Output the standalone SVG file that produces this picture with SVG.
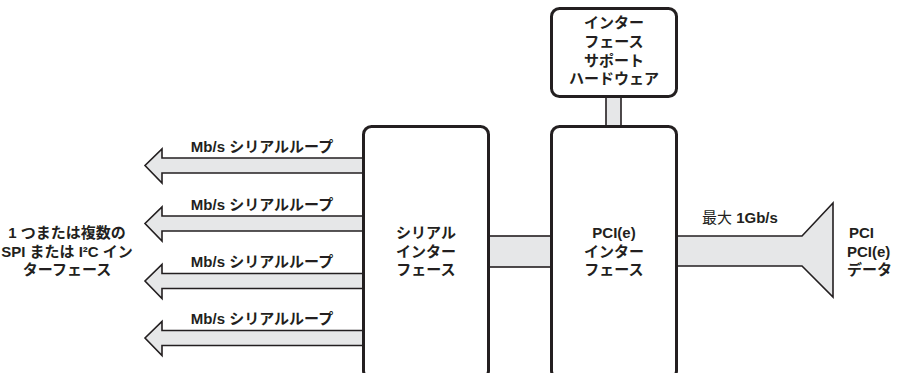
<svg xmlns="http://www.w3.org/2000/svg" width="899" height="373" viewBox="0 0 899 373">
<style>
.box{fill:#fff;stroke:#231f20;stroke-width:3}
.pipe{fill:#e6e7e8;stroke:#231f20;stroke-width:1.6}
.t{font-family:"Liberation Sans","Noto Sans CJK JP",sans-serif;font-size:15px;font-weight:bold;fill:#231f20;text-anchor:middle}
.n{font-weight:normal}
</style>
<rect width="899" height="373" fill="#fff"/>
<g id="connectors">
<rect class="pipe" x="606" y="96" width="15" height="31"/>
<rect class="pipe" x="488" y="236" width="65" height="31"/>
<path class="pipe" d="M363,158 H162 V149 L145,165.5 L162,183 V173 H363"/>
<path class="pipe" d="M363,216 H162 V207 L145,223.5 L162,241 V231 H363"/>
<path class="pipe" d="M363,273.5 H162 V264.5 L145,281 L162,298.5 V288.5 H363"/>
<path class="pipe" d="M363,330.5 H162 V321.5 L145,338 L162,355.5 V345.5 H363"/>
<path class="pipe" d="M676,236 H802 L833,203 V297 L802,266 H676"/>
</g>
<g id="support">
<rect class="box" x="551.5" y="8.5" width="125" height="88" rx="8"/>
<text class="t"><tspan x="614" y="28">インター</tspan><tspan x="614" y="47">フェース</tspan><tspan x="614" y="66">サポート</tspan><tspan x="614" y="84">ハードウェア</tspan></text>
</g>
<g id="serial">
<rect class="box" x="363.5" y="126.5" width="125" height="252" rx="8"/>
<text class="t"><tspan x="426" y="238">シリアル</tspan><tspan x="426" y="257">インター</tspan><tspan x="426" y="275">フェース</tspan></text>
</g>
<g id="pci">
<rect class="box" x="551.5" y="126.5" width="125" height="252" rx="8"/>
<text class="t"><tspan x="614" y="238">PCI(e)</tspan><tspan x="614" y="257">インター</tspan><tspan x="614" y="275">フェース</tspan></text>
</g>
<g id="labels">
<text class="t" x="262" y="152">Mb/s シリアルループ</text>
<text class="t" x="262" y="210">Mb/s シリアルループ</text>
<text class="t" x="262" y="267">Mb/s シリアルループ</text>
<text class="t" x="262" y="324">Mb/s シリアルループ</text>
<text class="t"><tspan x="67" y="238">1 つまたは複数の</tspan><tspan x="67" y="257">SPI または I²C イン</tspan><tspan x="67" y="275">ターフェース</tspan></text>
<text class="t" x="702" y="223" style="text-anchor:start"><tspan class="n">最大</tspan>  1Gb/s</text>
<text class="t" style="text-anchor:start"><tspan x="849" y="238">PCI</tspan><tspan x="847" y="257">PCI(e)</tspan><tspan x="847" y="275">データ</tspan></text>
</g>
</svg>
